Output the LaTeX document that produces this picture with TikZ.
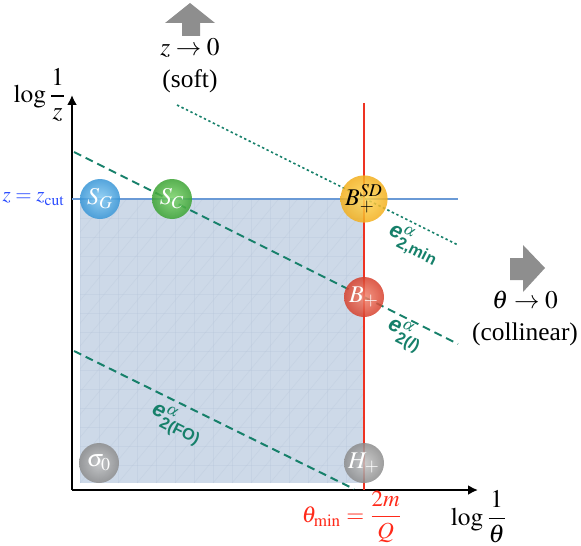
\documentclass[tikz,border=0pt]{standalone}
\usepackage{mathptmx}
\usepackage{amsmath}
\usepackage{fontspec}
\setmainfont{Liberation Serif}
\setsansfont{Liberation Sans}
\usetikzlibrary{arrows.meta}
\definecolor{regionfill}{HTML}{CDD9E8}
\definecolor{gridc}{HTML}{B4C3D8}
\definecolor{zcutline}{HTML}{6A9AD6}
\definecolor{zcuttext}{HTML}{2A4CFF}
\definecolor{redline}{HTML}{EE3322}
\definecolor{redtext}{HTML}{FF2A1A}
\definecolor{teal}{HTML}{16806A}
\definecolor{blockgray}{HTML}{8E8E8E}
\definecolor{blueIn}{HTML}{86CBF3}
\definecolor{blueOut}{HTML}{3795D6}
\definecolor{greenIn}{HTML}{7DD56B}
\definecolor{greenOut}{HTML}{3AA232}
\definecolor{yellowIn}{HTML}{FFD957}
\definecolor{yellowOut}{HTML}{F2AE1C}
\definecolor{redIn}{HTML}{F28670}
\definecolor{redOut}{HTML}{D63F2C}
\definecolor{grayIn}{HTML}{C4C4C4}
\definecolor{grayOut}{HTML}{8C8C8C}
\newcommand{\ebold}{\textsf{\bfseries\itshape e}}
\begin{document}
\begin{tikzpicture}[x=0.5pt,y=-0.5pt,
  axis/.style={line width=1.2pt,-{Latex[length=5pt,width=5pt]}},
  gridline/.style={draw=gridc,line width=0.3pt,opacity=0.3},
  eline/.style={draw=teal,line width=1pt,dash pattern=on 4pt off 2.5pt},
  edot/.style={draw=teal,line width=0.8pt,dash pattern=on 1.2pt off 1.3pt},
  elabel/.style={text=teal,font=\fontsize{11}{13}\selectfont\sffamily\bfseries,rotate=-26.57,inner sep=0pt},
  ball/.style 2 args={circle,minimum size=20pt,inner sep=0pt,inner color=#1,outer color=#2,fill opacity=0.85,text opacity=1,text=white,font=\fontsize{12}{14}\selectfont},
  lbl/.style={font=\fontsize{12.7}{15}\selectfont,inner sep=0pt,align=center},
  block/.style={fill=blockgray}
]
\useasboundingbox (0,0) rectangle (581,545);

% shaded region
\fill[regionfill] (80,199) rectangle (363,483);
\begin{scope}
  \clip (80,199) rectangle (363,483);
  \foreach \i in {0,...,15} \draw[gridline] ({80+19*\i},199) -- ({80+19*\i},483);
  \foreach \i in {0,...,15} \draw[gridline] (80,{199+19*\i}) -- (363,{199+19*\i});
  \foreach \i in {-20,...,16} \draw[gridline] ({80+19*\i},483) -- ++(300,-360);
\end{scope}

% axes
\coordinate (O) at (72,490);
\coordinate (ytip) at (72,95);
\coordinate (xtip) at (478,490);
\draw[axis] (O) -- (ytip);
\draw[axis] (O) -- (xtip);

% z_cut line and theta_min line
\coordinate (zc1) at (72,199);
\coordinate (zc2) at (458,199);
\draw[zcutline,line width=1.1pt] (zc1) -- (zc2);
\coordinate (tm1) at (364,103);
\coordinate (tm2) at (364,490);
\draw[redline,line width=1.1pt] (tm1) -- (tm2);

% e2 lines
\coordinate (l1) at (74,152);
\coordinate (l2) at (458,344);
\draw[eline] (l1) -- (l2);
\coordinate (m1) at (177,105);
\coordinate (m2) at (458,245);
\draw[edot] (m1) -- (m2);
\coordinate (f1) at (74,351);
\coordinate (f2) at (354,489);
\draw[eline] (f1) -- (f2);

% line labels
\node[elabel] (lmin) at (414,244) {\ebold$^{\alpha}_{\textsf{\bfseries 2,min}}$};
\node[elabel] (ll) at (405,335) {\ebold$^{\alpha}_{\textsf{\bfseries 2(\textit{l})}}$};
\node[elabel] (lfo) at (177,424) {\ebold$^{\alpha}_{\textsf{\bfseries 2(FO)}}$};

% balls
\node[ball={blueIn}{blueOut}] (SG) at (100,199) {$S_G$};
\node[ball={greenIn}{greenOut}] (SC) at (172,199) {$S_C$};
\node[ball={yellowIn}{yellowOut},text=black] (BSD) at (364,199) {$B_+^{SD}$};
\node[ball={redIn}{redOut}] (Bp) at (364,297) {$B_+$};
\node[ball={grayIn}{grayOut}] (Hp) at (364,463) {$H_+$};
\node[ball={grayIn}{grayOut}] (s0) at (99,463) {$\sigma_0$};

% axis labels
\node[lbl] (ylab) at (40,95) {$\log\displaystyle\frac{1}{z}$};
\node[lbl] (xlab) at (479,517) {$\log\displaystyle\frac{1}{\theta}$};
\node[lbl,text=redtext,font=\fontsize{11.5}{14}\selectfont] (tmin) at (352,517) {$\theta_{\mathrm{min}} = \displaystyle\frac{2m}{Q}$};
\node[lbl,text=zcuttext,font=\fontsize{10.5}{13}\selectfont,anchor=east] (zcut) at (65,199) {$z = z_{\mathrm{cut}}$};

% soft / collinear
\fill[block] (190,3) -- (215,23) -- (200,23) -- (200,36) -- (182,36) -- (182,23) -- (165,23) -- cycle;
\node[lbl] (soft) at (190,66) {$z \to 0$\\[1pt](soft)};
\fill[block] (545,268) -- (523,292) -- (523,280) -- (510,280) -- (510,258) -- (523,258) -- (523,245) -- cycle;
\node[lbl] (coll) at (525,318) {$\theta \to 0$\\[1pt](collinear)};
\end{tikzpicture}
\end{document}
